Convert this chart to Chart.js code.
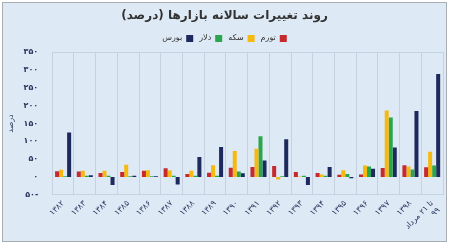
<!DOCTYPE html>
<html><head><meta charset="utf-8">
<script src="https://cdn.jsdelivr.net/npm/chart.js@4/dist/chart.umd.min.js"></script>
<style>html,body{margin:0;padding:0;background:#fff}canvas{display:block}</style>
</head><body>
<canvas id="c" width="450" height="246"></canvas>
<script>
const categories = ['۱۳۸۲','۱۳۸۳','۱۳۸۴','۱۳۸۵','۱۳۸۶','۱۳۸۷','۱۳۸۸','۱۳۸۹','۱۳۹۰','۱۳۹۱','۱۳۹۲','۱۳۹۳','۱۳۹۴','۱۳۹۵','۱۳۹۶','۱۳۹۷','۱۳۹۸',['تا ۲۱ مرداد','۹۹']];
const inflation = [16,15,11,14,17,24,8,12,26,28,31,14,11,6,7,25,33,27];
const coin      = [20,17,17,34,19,18,17,33,73,79,-7,1,7,19,32,187,29,71];
const dollar    = [2,3,3,2,2,3,3,3,15,114,2,3,3,8,29,167,21,32];
const bourse    = [125,5,-23,3,2,-21,56,84,10,46,106,-23,28,-4,23,83,185,289];
const seriesNames = ['تورم','سکه','دلار','بورس'];
const yTicks = [-50,0,50,100,150,200,250,300,350];
const yTickLabels = ['-۵۰','۰','۵۰','۱۰۰','۱۵۰','۲۰۰','۲۵۰','۳۰۰','۳۵۰'];
const titleText = 'روند تغییرات سالانه بازارها (درصد)';
const yTitle = 'درصد';

const FONT = "'DejaVu Sans', sans-serif";
const frame = {
  id:'frame',
  beforeDraw(chart){
    const c = chart.ctx;
    c.save();
    c.fillStyle = '#ffffff';
    c.fillRect(0,0,chart.width,chart.height);
    c.fillStyle = '#dde9f5';
    c.fillRect(3,3,443,238);
    c.strokeStyle = '#a8adb3';
    c.lineWidth = 1;
    c.strokeRect(2.5,2.5,444,239);
    c.restore();
  },
  beforeDatasetsDraw(chart){
    const a = chart.chartArea, c = chart.ctx;
    c.save();
    c.strokeStyle = '#c4d2e1';
    c.lineWidth = 1;
    c.strokeRect(Math.round(a.left)+0.5, Math.round(a.top)+0.5, Math.round(a.right-a.left), Math.round(a.bottom-a.top));
    c.restore();
  }
};

new Chart(document.getElementById('c'), {
  type:'bar',
  data:{
    labels:categories,
    datasets:[
      {label:seriesNames[0], data:inflation, backgroundColor:'#c62a2f'},
      {label:seriesNames[1], data:coin, backgroundColor:'#f6b90f'},
      {label:seriesNames[2], data:dollar, backgroundColor:'#2ca64c'},
      {label:seriesNames[3], data:bourse, backgroundColor:'#1e2a5e'}
    ]
  },
  options:{
    responsive:false,
    animation:false,
    devicePixelRatio:1,
    layout:{padding:{left:6,right:7,top:5,bottom:4}},
    datasets:{bar:{barPercentage:1,categoryPercentage:0.74}},
    plugins:{
      title:{display:true,text:titleText,color:'#333333',font:{family:FONT,size:12,weight:'bold'},padding:{top:4,bottom:5}},
      legend:{display:true,rtl:true,textDirection:'rtl',
        labels:{boxWidth:7,boxHeight:7,padding:6,color:'#333333',font:{family:FONT,size:8}}},
      tooltip:{enabled:false}
    },
    scales:{
      x:{
        offset:true,
        grid:{display:true,offset:true,color:'#c4d2e1',drawTicks:false},
        border:{display:false},
        ticks:{minRotation:45,maxRotation:45,autoSkip:false,color:'#2c3660',font:{family:FONT,size:8},padding:4}
      },
      y:{
        min:-50,max:350,
        afterBuildTicks(axis){axis.ticks = yTicks.map(v=>({value:v}));},
        grid:{display:false},
        border:{display:false},
        title:{display:true,text:yTitle,color:'#2c3660',font:{family:FONT,size:8},padding:{top:0,bottom:2}},
        ticks:{color:'#2c3660',font:{family:FONT,size:8,weight:'bold'},padding:6,
          callback(v){const i=yTicks.indexOf(v);return i>=0?yTickLabels[i]:'';}}
      }
    }
  },
  plugins:[frame]
});
</script>
</body></html>
